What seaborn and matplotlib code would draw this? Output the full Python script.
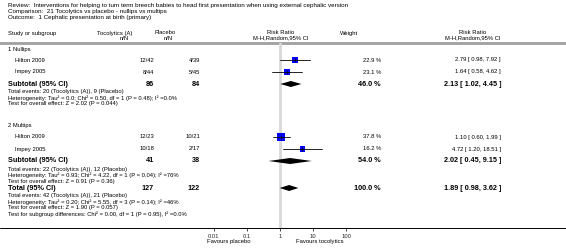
import numpy as np
import pandas as pd
import matplotlib
matplotlib.use("Agg")
import matplotlib.pyplot as plt
import seaborn as sns

# ---- data ----
title_lines = [
    "Review:  Interventions for helping to turn term breech babies to head first presentation when using external cephalic version",
    "Comparison:  21 Tocolytics vs placebo - nullips vs multips",
    "Outcome:  1 Cephalic presentation at birth (primary)",
]
groups = ["1 Nullips", "2 Multips"]
studies = ["Hilton 2009", "Impey 2005", "Hilton 2009", "Impey 2005"]
study_group = [0, 0, 1, 1]
toco_nN = ["12/42", "8/44", "12/23", "10/18"]
plac_nN = ["4/39", "5/45", "10/21", "2/17"]
weights = [22.9, 23.1, 37.8, 16.2]
rr = [2.79, 1.64, 1.10, 4.72]
rr_lo = [0.98, 0.58, 0.60, 1.20]
rr_hi = [7.92, 4.62, 1.99, 18.51]

sub_toco_n = [86, 41]
sub_plac_n = [84, 38]
sub_weight = [46.0, 54.0]
sub_rr = [2.13, 2.02]
sub_lo = [1.02, 0.45]
sub_hi = [4.45, 9.15]
sub_notes = [
    ["Total events: 20 (Tocolytics (A)), 9 (Placebo)",
     "Heterogeneity: Tau² = 0.0; Chi² = 0.50, df = 1 (P = 0.48); I² =0.0%",
     "Test for overall effect: Z = 2.02 (P = 0.044)"],
    ["Total events: 22 (Tocolytics (A)), 12 (Placebo)",
     "Heterogeneity: Tau² = 0.93; Chi² = 4.22, df = 1 (P = 0.04); I² =76%",
     "Test for overall effect: Z = 0.91 (P = 0.36)"],
]
tot_toco_n, tot_plac_n = 127, 122
tot_weight, tot_rr, tot_lo, tot_hi = 100.0, 1.89, 0.98, 3.62
tot_notes = [
    "Total events: 42 (Tocolytics (A)), 21 (Placebo)",
    "Heterogeneity: Tau² = 0.20; Chi² = 5.55, df = 3 (P = 0.14); I² =46%",
    "Test for overall effect: Z = 1.90 (P = 0.057)",
    "Test for subgroup differences: Chi² = 0.00, df = 1 (P = 0.95), I² =0.0%",
]
tick_vals = [0.01, 0.1, 1, 10, 100]
tick_labels = ["0.01", "0.1", "1", "10", "100"]

# ---- layout (pixel rows) ----
W, H = 566, 248
group_y = [49, 125]
study_y = [60, 72, 137, 149]
sub_y = [84, 161]
tot_y = 188
note_step = 6
axis_y = 228
top_line_y = 43
x_lo_px, x_hi_px = 214, 346   # 0.01 and 100

sns.set_theme(style="white")
plt.rcParams["font.family"] = ["Liberation Sans", "DejaVu Sans"]
fs = 4.2
fsb = 5.2

fig = plt.figure(figsize=(W / 100, H / 100), dpi=100)
bg = fig.add_axes([0, 0, 1, 1])
bg.set_xlim(0, W)
bg.set_ylim(H, 0)
bg.axis("off")

def t(x, y, s, ha="left", bold=False, size=None):
    bg.text(x, y, s, ha=ha, va="center", fontsize=size or (fsb if bold else fs),
            fontweight="bold" if bold else "normal", color="black")

for i, line in enumerate(title_lines):
    t(8, 5 + 6 * i, line, size=4.5)

# headers
t(8, 33, "Study or subgroup")
t(115, 33, "Tocolytics (A)", ha="center")
t(124, 38, "n/N", ha="center")
t(165, 33, "Placebo", ha="center")
t(168, 38, "n/N", ha="center")
t(281, 33, "Risk Ratio", ha="center")
t(281, 38, "M-H,Random,95% CI", ha="center")
t(340, 33, "Weight")
t(473, 33, "Risk Ratio", ha="center")
t(473, 38, "M-H,Random,95% CI", ha="center")
bg.axhline(top_line_y, color="#a0a0a0", lw=2)

x_toco, x_plac, x_w, x_rr = 154, 200, 381, 501

for g, name in enumerate(groups):
    t(8, group_y[g], name)
for i, s in enumerate(studies):
    y = study_y[i]
    t(15, y, s)
    t(x_toco, y, toco_nN[i], ha="right")
    t(x_plac, y, plac_nN[i], ha="right")
    t(x_w, y, f"{weights[i]:.1f} %", ha="right")
    t(x_rr, y, f"{rr[i]:.2f} [ {rr_lo[i]:.2f}, {rr_hi[i]:.2f} ]", ha="right")
for g in range(2):
    y = sub_y[g]
    t(8, y, "Subtotal (95% CI)", bold=True)
    t(x_toco, y, str(sub_toco_n[g]), ha="right", bold=True)
    t(x_plac, y, str(sub_plac_n[g]), ha="right", bold=True)
    t(x_w, y, f"{sub_weight[g]:.1f} %", ha="right", bold=True)
    t(x_rr, y, f"{sub_rr[g]:.2f} [ {sub_lo[g]:.2f}, {sub_hi[g]:.2f} ]", ha="right", bold=True)
    for k, note in enumerate(sub_notes[g]):
        t(8, y + 8 + k * note_step, note)
t(8, tot_y, "Total (95% CI)", bold=True)
t(x_toco, tot_y, str(tot_toco_n), ha="right", bold=True)
t(x_plac, tot_y, str(tot_plac_n), ha="right", bold=True)
t(x_w, tot_y, f"{tot_weight:.1f} %", ha="right", bold=True)
t(x_rr, tot_y, f"{tot_rr:.2f} [ {tot_lo:.2f}, {tot_hi:.2f} ]", ha="right", bold=True)
for k, note in enumerate(tot_notes):
    t(8, tot_y + 8 + k * note_step, note)

bg.axhline(axis_y, color="black", lw=0.7)
t(229, 242, "Favours placebo", ha="center")
t(320, 242, "Favours tocolytics", ha="center")

# ---- forest panel ----
ax = fig.add_axes([x_lo_px / W, 1 - axis_y / H, (x_hi_px - x_lo_px) / W, (axis_y - top_line_y) / H])
ax.set_xscale("log")
ax.set_xlim(0.01, 100)
ax.set_ylim(axis_y, top_line_y)
ax.patch.set_alpha(0)
for sp in ax.spines.values():
    sp.set_visible(False)
ax.axvline(1, color="#d8d8d8", lw=2, zorder=0)

df = pd.DataFrame({"rr": rr, "y": study_y, "w": weights})
sizes = {w: (1.3 * np.sqrt(w) * 0.72) ** 2 for w in weights}
sns.scatterplot(data=df, x="rr", y="y", size="w", sizes=sizes, marker="s",
                color="#0000ff", edgecolor="none", legend=False, ax=ax, zorder=2)
for i in range(len(rr)):
    ax.plot([rr_lo[i], rr_hi[i]], [study_y[i], study_y[i]], color="black", lw=0.6, zorder=3)
    ax.plot([rr[i]], [study_y[i]], marker="|", ms=2.5, mew=0.5, color="black", zorder=4)

def diamond(est, lo, hi, y, h=3):
    ax.fill([lo, est, hi, est], [y, y - h, y, y + h], color="black", lw=0, zorder=3)

for g in range(2):
    diamond(sub_rr[g], sub_lo[g], sub_hi[g], sub_y[g])
diamond(tot_rr, tot_lo, tot_hi, tot_y)

ax.set_xticks(tick_vals)
ax.set_xticklabels(tick_labels)
ax.minorticks_off()
ax.set_yticks([])
ax.set_xlabel("")
ax.set_ylabel("")
ax.tick_params(axis="x", direction="out", length=2.5, width=0.5, pad=1.5, labelsize=fs,
               bottom=True, color="black")

fig.savefig("out.png", dpi=100)
